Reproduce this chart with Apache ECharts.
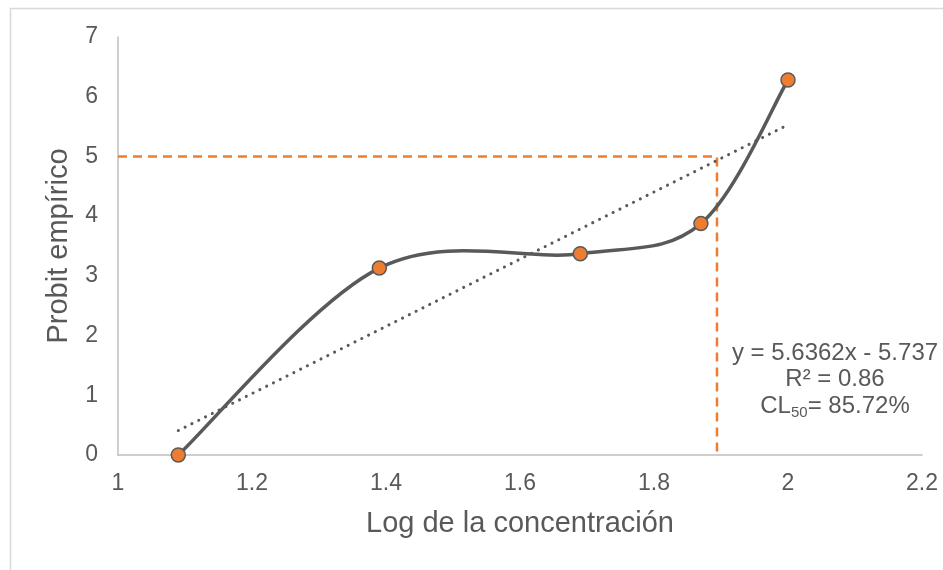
<!DOCTYPE html>
<html>
<head>
<meta charset="utf-8">
<script src="https://cdn.jsdelivr.net/npm/echarts@6/dist/echarts.min.js"></script>
<style>html,body{margin:0;padding:0;background:#fff;}#c{width:943px;height:570px;}</style>
</head>
<body>
<div id="c"></div>
<script>
// Data
const logConc = [1.09, 1.39, 1.69, 1.87, 2.0];
const probit = [0, 3.13, 3.37, 3.875, 6.28];
const trendX = [1.09, 2.0];
const trendY = [0.41, 5.53];
const cl50X = 1.894;
const cl50Y = 5;
const xTicks = [1, 1.2, 1.4, 1.6, 1.8, 2, 2.2];
const yTicks = [0, 1, 2, 3, 4, 5, 6, 7];

const pts = logConc.map((x, i) => [x, probit[i]]);
const trend = trendX.map((x, i) => [x, trendY[i]]);
const guide = [[xTicks[0], cl50Y], [cl50X, cl50Y], [cl50X, yTicks[0]]];

const FONT = '"Liberation Sans", Arial, sans-serif';
const GREY = '#595959';

// Smoothed (Catmull-Rom style, as in spreadsheet charts) curve through the data,
// positioned with the chart's own coordinate system.
function renderCurve(params, api) {
  if (params.dataIndex !== 0) return null;
  const p = pts.map(d => api.coord(d));
  const n = p.length;
  let d = 'M' + p[0][0] + ' ' + p[0][1];
  for (let i = 0; i < n - 1; i++) {
    const p0 = p[Math.max(i - 1, 0)], p1 = p[i], p2 = p[i + 1], p3 = p[Math.min(i + 2, n - 1)];
    const c1x = p1[0] + (p2[0] - p0[0]) / 6, c1y = p1[1] + (p2[1] - p0[1]) / 6;
    const c2x = p2[0] - (p3[0] - p1[0]) / 6, c2y = p2[1] - (p3[1] - p1[1]) / 6;
    d += ' C' + c1x + ' ' + c1y + ' ' + c2x + ' ' + c2y + ' ' + p2[0] + ' ' + p2[1];
  }
  return {
    type: 'path',
    shape: { pathData: d },
    style: { fill: 'none', stroke: GREY, lineWidth: 3.5, lineCap: 'round', lineJoin: 'round' }
  };
}

const chart = echarts.init(document.getElementById('c'));
chart.setOption({
  animation: false,
  backgroundColor: '#fff',
  grid: { left: 118, right: 21, top: 37, bottom: 115 },
  xAxis: {
    type: 'value', min: 1, max: 2.2, interval: 0.2,
    name: 'Log de la concentración', nameLocation: 'middle', nameGap: 54,
    nameTextStyle: { fontFamily: FONT, fontSize: 29, color: GREY, verticalAlign: 'top' },
    axisLine: { show: true, lineStyle: { color: '#BFBFBF', width: 1.5 } },
    axisTick: { show: false },
    splitLine: { show: false },
    axisLabel: { fontFamily: FONT, fontSize: 23, color: GREY, margin: 17,
      formatter: v => String(Math.round(v * 10) / 10) }
  },
  yAxis: {
    type: 'value', min: 0, max: 7, interval: 1,
    name: 'Probit empírico', nameLocation: 'middle', nameGap: 45,
    nameTextStyle: { fontFamily: FONT, fontSize: 29, color: GREY },
    axisLine: { show: true, lineStyle: { color: '#BFBFBF', width: 1.5 } },
    axisTick: { show: false },
    splitLine: { show: false },
    axisLabel: { fontFamily: FONT, fontSize: 23, color: GREY, margin: 20 }
  },
  graphic: [
    { type: 'rect', shape: { x: 10.5, y: 8.5, width: 1000, height: 1000 },
      style: { fill: 'none', stroke: '#D9D9D9', lineWidth: 1.5 }, silent: true, z: -10 },
    { type: 'text', x: 835, y: 353, z: 100,
      style: { text: 'y = 5.6362x - 5.737', fontFamily: FONT, fontSize: 24, fill: GREY,
        align: 'center', verticalAlign: 'middle' } },
    { type: 'text', x: 835, y: 379, z: 100,
      style: { text: 'R² = 0.86', fontFamily: FONT, fontSize: 24, fill: GREY,
        align: 'center', verticalAlign: 'middle' } },
    { type: 'text', x: 835, y: 406, z: 100,
      style: { text: '{n|CL}{s|50}{n|= 85.72%}', fontFamily: FONT, fontSize: 24, fill: GREY,
        align: 'center', verticalAlign: 'middle',
        rich: {
          n: { fontFamily: FONT, fontSize: 24, fill: GREY, lineHeight: 28 },
          s: { fontFamily: FONT, fontSize: 15, fill: GREY, lineHeight: 28, padding: [14, 0, 0, 0] }
        } } }
  ],
  series: [
    { type: 'line', data: guide, symbol: 'none', silent: true, z: 1,
      lineStyle: { color: '#ED7D31', width: 2.5, type: [9, 6] } },
    { type: 'line', data: trend, symbol: 'none', silent: true, z: 2,
      lineStyle: { color: GREY, width: 3, type: [0.1, 7.5], cap: 'round' } },
    { type: 'custom', data: pts, renderItem: renderCurve, z: 3, silent: true },
    { type: 'scatter', data: pts, z: 4,
      symbol: 'circle', symbolSize: 14,
      itemStyle: { color: '#ED7D31', borderColor: GREY, borderWidth: 1.5, opacity: 1 } }
  ]
});
</script>
</body>
</html>
